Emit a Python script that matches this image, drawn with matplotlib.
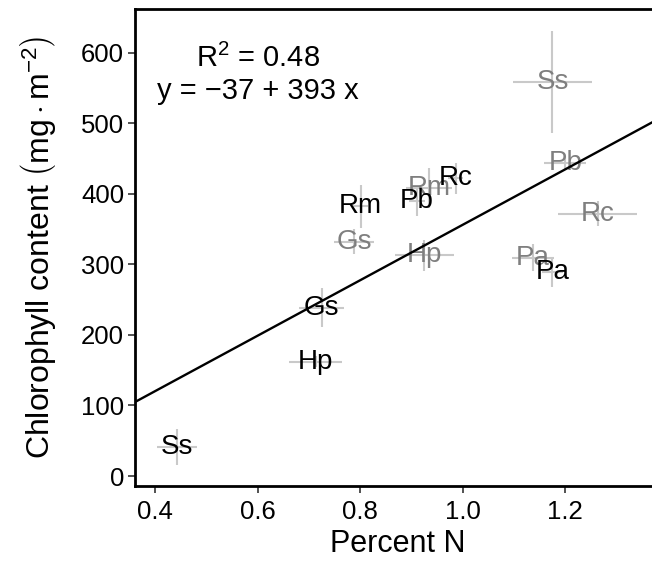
import matplotlib
matplotlib.use("Agg")
import matplotlib.pyplot as plt
import numpy as np

plt.rcParams["font.family"] = ["Liberation Sans", "DejaVu Sans"]
plt.rcParams["mathtext.fontset"] = "custom"
plt.rcParams["mathtext.rm"] = "Liberation Sans"
plt.rcParams["mathtext.it"] = "Liberation Sans:italic"
plt.rcParams["mathtext.bf"] = "Liberation Sans:bold"

# Species codes
species = ["Ss", "Hp", "Gs", "Rm", "Pb", "Rc", "Pa"]

# First group (black labels): mean percent N and chlorophyll, with errors
n_black = [0.442, 0.713, 0.725, 0.801, 0.911, 0.986, 1.175]
chl_black = [41, 162, 238.5, 382, 389, 422, 289]
n_err_black = [0.039, 0.051, 0.0435, 0.015, 0.015, 0.015, 0.02]
chl_err_black = [25, 8, 28, 30, 20, 22, 21]

# Second group (grey labels)
n_grey = [1.175, 0.925, 0.788, 0.935, 1.200, 1.263, 1.137]
chl_grey = [558.5, 313, 332, 408, 444, 371.7, 309.5]
n_err_grey = [0.077, 0.058, 0.039, 0.045, 0.041, 0.077, 0.040]
chl_err_grey = [72.5, 22, 18, 28, 10, 18, 19]

# Linear fit
intercept = -37
slope = 393
r_squared = 0.48

fig = plt.figure(figsize=(6.52, 5.64), dpi=100)
ax = fig.add_axes([135.3 / 652, 1 - 485.7 / 564, (660 - 135.3) / 652, (485.7 - 9.3) / 564])

x_lim = (0.3616, 1.3846)
y_lim = (-13.7, 661.3)
ax.set_xlim(*x_lim)
ax.set_ylim(*y_lim)

bar_color = "#c9c9c9"
for xs, ys, xe, ye in [(n_black, chl_black, n_err_black, chl_err_black),
                       (n_grey, chl_grey, n_err_grey, chl_err_grey)]:
    ax.errorbar(xs, ys, xerr=xe, yerr=ye, fmt="none", ecolor=bar_color,
                elinewidth=1.5, capsize=0, zorder=1)

for s, x, y in zip(species, n_grey, chl_grey):
    ax.text(x, y, s, color="#7f7f7f", fontsize=20, ha="center", va="center",
            zorder=2)

xx = np.array(x_lim)
ax.plot(xx, intercept + slope * xx, color="black", lw=1.7, zorder=3,
        solid_capstyle="butt")

for s, x, y in zip(species, n_black, chl_black):
    ax.text(x, y, s, color="black", fontsize=20, ha="center", va="center",
            zorder=4)

ax.text(0.60, 580, r"R$^{2}$ = 0.48", fontsize=21, ha="center", va="baseline")
ax.text(0.60, 533.8, f"y = \u2212{abs(intercept)} + {slope} x", fontsize=21,
        ha="center", va="baseline")

ax.set_xticks([0.4, 0.6, 0.8, 1.0, 1.2])
ax.set_xticklabels(["0.4", "0.6", "0.8", "1.0", "1.2"])
ax.set_yticks([0, 100, 200, 300, 400, 500, 600])

for side in ["left", "bottom", "top", "right"]:
    ax.spines[side].set_linewidth(2.0)
    ax.spines[side].set_color("black")

ax.tick_params(axis="both", direction="out", length=5, width=1.2,
               color="#333333", labelsize=18.5, labelcolor="black")
ax.tick_params(axis="y", pad=3)
ax.tick_params(axis="x", pad=5)

ax.set_xlabel("Percent N", fontsize=22, labelpad=4)
ax.set_ylabel(r"Chlorophyll content $\left(\mathrm{mg \cdot m^{-2}}\right)$",
              fontsize=23)
ax.yaxis.set_label_coords(-0.148, 0.5)

fig.savefig("out.png", dpi=100)
